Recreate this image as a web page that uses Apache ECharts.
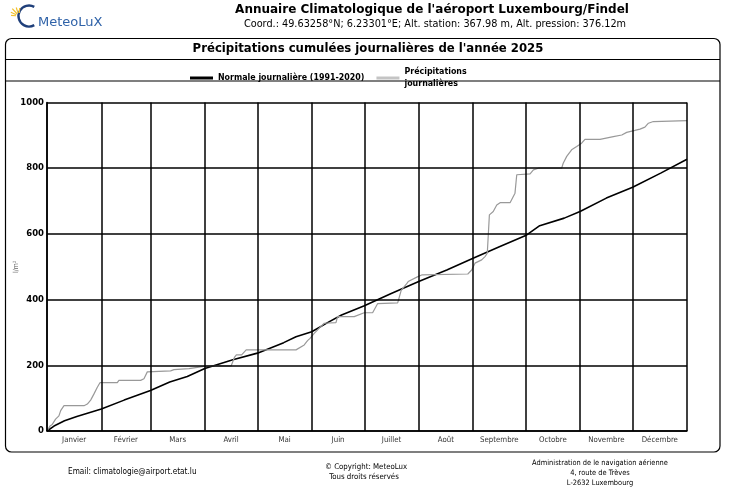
<!DOCTYPE html>
<html>
<head>
<meta charset="utf-8">
<script src="https://cdn.jsdelivr.net/npm/echarts@6/dist/echarts.min.js"></script>
<style>html,body{margin:0;padding:0;background:#fff}#c{width:737px;height:491px}</style>
</head>
<body>
<div id="c"></div>
<script>
const monthNames = ['Janvier','Février','Mars','Avril','Mai','Juin','Juillet','Août','Septembre','Octobre','Novembre','Décembre'];
const monthStarts = [0,31,59,90,120,151,181,212,243,273,304,334,365];
const monthMids = [15.5,45,74.5,105,135.5,166,196.5,227.5,258,288.5,319,349.5];

const normalDays   = [0,4,10,17,31,44,59,70,80,90,106,120,135,142,151,160,168,181,196,212,228,243,258,273,281,295,304,319,334,350,365];
const normalValues = [0,15,31,44,67,94,123,149,166,190,217,237,269,287,302,330,353,381,418,455,490,526,561,595,625,648,668,709,742,785,827];

const precipDays = [0,1.7,3,4.9,6.8,7.8,9.7,21.1,23,24.9,26.8,28.7,30.2,40.1,41,53.4,55.3,57.2,58.2,70.5,72.4,81,81.9,89.5,95,105,107,108,111,113.6,142,146.7,148.6,150,152.4,155.3,158.1,164.8,165.7,175.2,180.9,185.7,188.6,200,202,204.8,206,211.5,213.7,240,242.2,244.1,247.9,249.8,251.1,252.3,254.5,256.5,258.4,264.1,266.9,267.9,275.5,277.4,280.2,293.5,294.4,296.4,299.2,302.1,304.9,306.8,315.4,323,327.8,330.6,335.3,338.2,341,343,345.8,365];
const precipValues = [0,15,20,36,46,62,77,77,82,94,113,133,147,147,154,154,159,180,183,183,187,190,195,197,198,198,225,232,232,247,247,262,275,282,297,313,328,330,348,348,360,360,388,390,428,446,455,470,475,478,490,511,521,531,541,658,668,688,695,695,724,780,783,795,800,800,815,836,856,866,876,888,888,896,901,909,915,919,925,937,942,945];

const SMALL = '"DejaVu Sans Condensed", "DejaVu Sans", sans-serif';
const BOLDN = '"DejaVu Sans Condensed", "Liberation Sans", sans-serif';

const chart = echarts.init(document.getElementById('c'));
const rays = [];
[[185,5],[205,6],[228,7],[252,6],[275,5]].forEach(([a,l])=>{
  const r = a*Math.PI/180, cx=19, cy=16;
  rays.push({type:'line', shape:{x1:cx+Math.cos(r)*3, y1:cy+Math.sin(r)*3, x2:cx+Math.cos(r)*(3+l), y2:cy+Math.sin(r)*(3+l)}, style:{stroke:'#f2c12e', lineWidth:1.2}});
});

chart.setOption({
  animation:false,
  backgroundColor:'#fff',
  grid:{left:47, right:50, top:102.5, bottom:60, outerBoundsMode:'none', containLabel:false},
  legend:{
    left:185, top:61, itemGap:12, itemWidth:23, itemHeight:3, icon:'rect',
    textStyle:{fontFamily:BOLDN, fontWeight:'bold', fontSize:8.8, color:'#000', lineHeight:12},
    formatter:n => n === 'Précipitations journalières' ? 'Précipitations\njournalières' : n,
    data:['Normale journalière (1991-2020)','Précipitations journalières']
  },
  xAxis:{
    type:'value', min:0, max:365, z:3,
    axisLine:{lineStyle:{color:'#000', width:1.5}},
    axisTick:{show:false, customValues:monthStarts},
    axisLabel:{customValues:monthMids, formatter:v=>monthNames[monthMids.indexOf(v)] || '', fontFamily:SMALL, fontSize:7.8, color:'#333', margin:5},
    splitLine:{show:true, lineStyle:{color:'#000', width:1.5}}
  },
  yAxis:{
    type:'value', min:0, max:1000, interval:200, z:3,
    name:'l/m²', nameLocation:'middle', nameGap:27, nameRotate:90, nameMoveOverlap:false,
    nameTextStyle:{fontFamily:SMALL, fontSize:7, color:'#666'},
    axisLine:{show:true, lineStyle:{color:'#000', width:1.5}},
    axisTick:{show:false},
    axisLabel:{formatter:v=>String(v), fontFamily:'"DejaVu Sans", sans-serif', fontWeight:'bold', fontSize:8.5, color:'#000', margin:3},
    splitLine:{show:true, lineStyle:{color:'#000', width:1.5}}
  },
  series:[
    {name:'Normale journalière (1991-2020)', type:'line', z:1, symbol:'none', itemStyle:{color:'#000'},
     lineStyle:{color:'#000', width:1.6}, data:normalDays.map((d,i)=>[d, normalValues[i]])},
    {name:'Précipitations journalières', type:'line', z:1, symbol:'none', itemStyle:{color:'#c4c4c4'},
     lineStyle:{color:'#999', width:1.2}, data:precipDays.map((d,i)=>[d, precipValues[i]])}
  ],
  graphic:[
    {type:'rect', shape:{x:5.5, y:38.5, width:714.5, height:413.5, r:6}, style:{fill:null, stroke:'#000', lineWidth:1.2}, z:10},
    {type:'line', shape:{x1:5.5, y1:59.5, x2:720, y2:59.5}, style:{stroke:'#000', lineWidth:1.2}, z:10},
    {type:'line', shape:{x1:5.5, y1:81, x2:720, y2:81}, style:{stroke:'#000', lineWidth:1.2}, z:10},
    {type:'text', x:368, y:49, style:{text:"Précipitations cumulées journalières de l'année 2025", font:'bold 13px '+BOLDN, fill:'#000', align:'center', verticalAlign:'middle'}},
    {type:'text', x:432, y:10, style:{text:"Annuaire Climatologique de l'aéroport Luxembourg/Findel", font:'bold 12px "DejaVu Sans", sans-serif', fill:'#000', align:'center', verticalAlign:'middle'}},
    {type:'text', x:435, y:24, style:{text:'Coord.: 49.63258°N; 6.23301°E; Alt. station: 367.98 m, Alt. pression: 376.12m', font:'10.8px '+SMALL, fill:'#000', align:'center', verticalAlign:'middle'}},
    {type:'arc', shape:{cx:29, cy:16, r:10.5, startAngle:-Math.PI/3, endAngle:Math.PI/3, clockwise:false}, style:{stroke:'#1f3f7a', lineWidth:2.4, fill:null}},
    ...rays,
    {type:'text', x:38, y:23, style:{text:'MeteoLuX', font:'13px "DejaVu Sans", sans-serif', fill:'#2f62a8', verticalAlign:'middle'}},
    {type:'text', x:68, y:472, style:{text:'Email: climatologie@airport.etat.lu', font:'8.2px '+SMALL, fill:'#000', verticalAlign:'middle'}},
    {type:'text', x:366, y:467, style:{text:'© Copyright: MeteoLux', font:'7.8px '+SMALL, fill:'#000', align:'center', verticalAlign:'middle'}},
    {type:'text', x:364, y:477, style:{text:'Tous droits réservés', font:'7.8px '+SMALL, fill:'#000', align:'center', verticalAlign:'middle'}},
    {type:'text', x:600, y:463.5, style:{text:'Administration de le navigation aérienne', font:'7.4px '+SMALL, fill:'#000', align:'center', verticalAlign:'middle'}},
    {type:'text', x:600, y:473.5, style:{text:'4, route de Trèves', font:'7.4px '+SMALL, fill:'#000', align:'center', verticalAlign:'middle'}},
    {type:'text', x:600, y:483, style:{text:'L-2632 Luxembourg', font:'7.4px '+SMALL, fill:'#000', align:'center', verticalAlign:'middle'}}
  ]
});
</script>
</body>
</html>
